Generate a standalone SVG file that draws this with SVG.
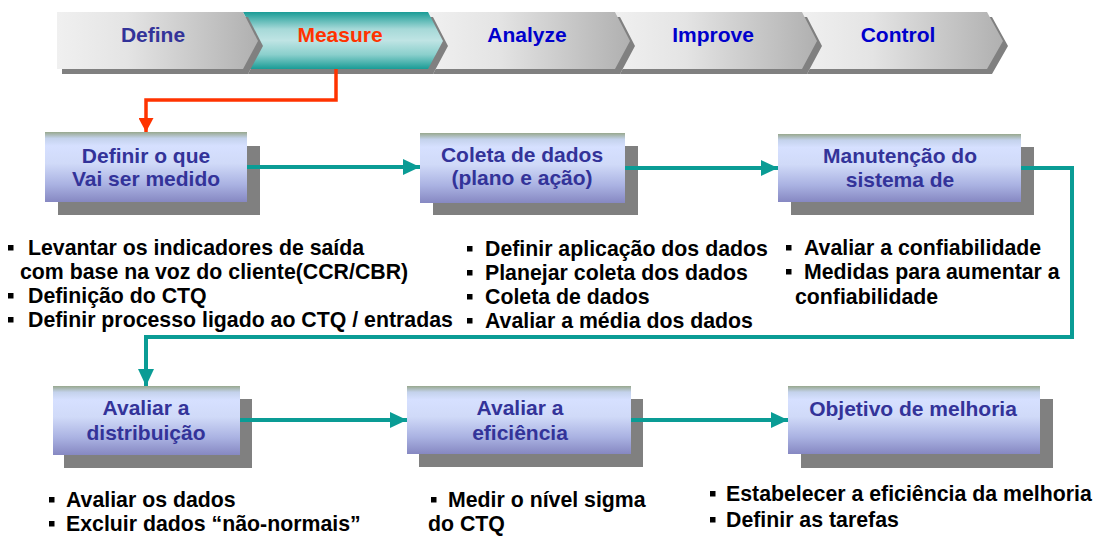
<svg xmlns="http://www.w3.org/2000/svg" width="1097" height="536" viewBox="0 0 1097 536">
<defs>
<linearGradient id="gGray" x1="0" y1="0" x2="1" y2="0">
<stop offset="0" stop-color="#f0f0f0"/><stop offset="0.35" stop-color="#e4e4e4"/><stop offset="1" stop-color="#b0b0b0"/>
</linearGradient>
<linearGradient id="gTeal" x1="0" y1="0" x2="0" y2="1">
<stop offset="0" stop-color="#1a9c96"/><stop offset="0.3" stop-color="#a6d9d8"/><stop offset="0.5" stop-color="#bfe4e4"/><stop offset="0.75" stop-color="#8acfcc"/><stop offset="1" stop-color="#1a9c96"/>
</linearGradient>
<linearGradient id="gBox" x1="0" y1="0" x2="0" y2="1">
<stop offset="0" stop-color="#98a88e"/><stop offset="0.09" stop-color="#c4d2ec"/><stop offset="0.2" stop-color="#d6e0ff"/><stop offset="0.45" stop-color="#d0daf8"/><stop offset="0.75" stop-color="#aab2e2"/><stop offset="1" stop-color="#8688c2"/>
</linearGradient>
<marker id="aTeal" markerUnits="userSpaceOnUse" markerWidth="17" markerHeight="16" refX="17" refY="8" orient="auto">
<path d="M0,0 L17,8 L0,16 Z" fill="#0a9c95"/>
</marker>
<marker id="aRed" markerUnits="userSpaceOnUse" markerWidth="14" markerHeight="15" refX="14" refY="7.5" orient="auto">
<path d="M0,0 L14,7.5 L0,15 Z" fill="#ff3300"/>
</marker>
</defs>
<style>
.shd{fill:#808080}
.chv{fill:url(#gGray)}
.box{fill:url(#gBox)}
.hd{font-family:"Liberation Sans",Arial,sans-serif;font-weight:bold;font-size:21px;text-anchor:middle}
.bt{font-family:"Liberation Sans",Arial,sans-serif;font-weight:bold;font-size:21px;text-anchor:middle;fill:#333399}
.tx{font-family:"Liberation Sans",Arial,sans-serif;font-weight:bold;font-size:21.3px;fill:#000}
.bl{fill:#000}
.ct{fill:none;stroke:#0a9c95;stroke-width:4}
.cr{fill:none;stroke:#ff3300;stroke-width:3.5}
</style>

<g id="phases">
<g id="control">
<polygon class="shd" points="807,17 992,17 1008,46 992,74 807,74 822,46"/>
<polygon class="chv" points="802,12 987,12 1003,41 987,69 802,69 817,41"/>
<text class="hd" x="898" y="42" fill="#0000cc">Control</text>
</g>
<g id="improve">
<polygon class="shd" points="620,17 807,17 822,46 807,74 620,74 635,46"/>
<polygon class="chv" points="615,12 802,12 817,41 802,69 615,69 630,41"/>
<text class="hd" x="713" y="42" fill="#0000cc">Improve</text>
</g>
<g id="analyze">
<polygon class="shd" points="433,17 620,17 635,46 620,74 433,74 448,46"/>
<polygon class="chv" points="428,12 615,12 630,41 615,69 428,69 443,41"/>
<text class="hd" x="527" y="42" fill="#0000cc">Analyze</text>
</g>
<g id="measure">
<polygon class="shd" points="248,17 433,17 448,46 433,74 248,74 263,46"/>
<polygon points="243,12 428,12 443,41 428,69 243,69 258,41" fill="url(#gTeal)"/>
<text class="hd" x="340" y="42" fill="#ff3300">Measure</text>
</g>
<g id="define">
<polygon class="shd" points="62,17 248,17 263,46 248,74 62,74"/>
<polygon class="chv" points="57,12 243,12 258,41 243,69 57,69"/>
<text class="hd" x="153" y="42" fill="#333399">Define</text>
</g>
</g>

<g id="n1">
<rect class="shd" x="58" y="146" width="202" height="69"/>
<rect class="box" x="45" y="132" width="202" height="70"/>
<text class="bt" x="146" y="163">Definir o que</text>
<text class="bt" x="146" y="186">Vai ser medido</text>
</g>
<g id="n2">
<rect class="shd" x="433" y="146" width="205" height="69"/>
<rect class="box" x="420" y="133" width="205" height="70"/>
<text class="bt" x="522" y="162">Coleta de dados</text>
<text class="bt" x="522" y="185">(plano e ação)</text>
</g>
<g id="n3">
<rect class="shd" x="791" y="147" width="243" height="68"/>
<rect class="box" x="778" y="134" width="243" height="68"/>
<text class="bt" x="900" y="163">Manutenção do</text>
<text class="bt" x="900" y="187">sistema de</text>
</g>
<g id="n4">
<rect class="shd" x="64" y="399" width="188" height="69"/>
<rect class="box" x="53" y="386" width="187" height="69"/>
<text class="bt" x="146" y="415">Avaliar a</text>
<text class="bt" x="146" y="440">distribuição</text>
</g>
<g id="n5">
<rect class="shd" x="419" y="399" width="224" height="68"/>
<rect class="box" x="407" y="386" width="224" height="68"/>
<text class="bt" x="520" y="415">Avaliar a</text>
<text class="bt" x="520" y="440">eficiência</text>
</g>
<g id="n6">
<rect class="shd" x="801" y="399" width="252" height="69"/>
<rect class="box" x="788" y="386" width="252" height="68"/>
<text class="bt" x="913" y="416">Objetivo de melhoria</text>
</g>

<g id="connectors">
<polyline class="cr" points="336,69 336,100 146,100 146,132" marker-end="url(#aRed)"/>
<line class="ct" x1="247" y1="167" x2="420" y2="167" marker-end="url(#aTeal)"/>
<line class="ct" x1="625" y1="168" x2="778" y2="168" marker-end="url(#aTeal)"/>
<polyline class="ct" points="1021,168 1072,168 1072,337 146,337 146,386" marker-end="url(#aTeal)"/>
<line class="ct" x1="240" y1="420" x2="407" y2="420" marker-end="url(#aTeal)"/>
<line class="ct" x1="631" y1="420" x2="788" y2="420" marker-end="url(#aTeal)"/>
</g>

<g id="notes-define">
<rect class="bl" x="8" y="245" width="5.5" height="5.5"/>
<text class="tx" x="28" y="255">Levantar os indicadores de saída</text>
<text class="tx" x="20" y="279">com base na voz do cliente(CCR/CBR)</text>
<rect class="bl" x="8" y="293" width="5.5" height="5.5"/>
<text class="tx" x="28" y="303">Definição do CTQ</text>
<rect class="bl" x="8" y="317" width="5.5" height="5.5"/>
<text class="tx" x="28" y="327">Definir processo ligado ao CTQ / entradas</text>
</g>
<g id="notes-coleta">
<rect class="bl" x="467" y="246" width="5.5" height="5.5"/>
<text class="tx" x="485" y="256">Definir aplicação dos dados</text>
<rect class="bl" x="467" y="270" width="5.5" height="5.5"/>
<text class="tx" x="485" y="280">Planejar coleta dos dados</text>
<rect class="bl" x="467" y="294" width="5.5" height="5.5"/>
<text class="tx" x="485" y="304">Coleta de dados</text>
<rect class="bl" x="467" y="318" width="5.5" height="5.5"/>
<text class="tx" x="485" y="328">Avaliar a média dos dados</text>
</g>
<g id="notes-manut">
<rect class="bl" x="786" y="245" width="5.5" height="5.5"/>
<text class="tx" x="804" y="255">Avaliar a confiabilidade</text>
<rect class="bl" x="786" y="269" width="5.5" height="5.5"/>
<text class="tx" x="804" y="279">Medidas para aumentar a</text>
<text class="tx" x="795" y="304">confiabilidade</text>
</g>
<g id="notes-distrib">
<rect class="bl" x="49" y="497" width="5.5" height="5.5"/>
<text class="tx" x="66" y="507">Avaliar os dados</text>
<rect class="bl" x="49" y="521" width="5.5" height="5.5"/>
<text class="tx" x="66" y="531">Excluir dados “não-normais”</text>
</g>
<g id="notes-efic">
<rect class="bl" x="431" y="497" width="5.5" height="5.5"/>
<text class="tx" x="448" y="507">Medir o nível sigma</text>
<text class="tx" x="428" y="531">do CTQ</text>
</g>
<g id="notes-obj">
<rect class="bl" x="710" y="491" width="5.5" height="5.5"/>
<text class="tx" x="726" y="501">Estabelecer a eficiência da melhoria</text>
<rect class="bl" x="710" y="517" width="5.5" height="5.5"/>
<text class="tx" x="726" y="527">Definir as tarefas</text>
</g>
</svg>
